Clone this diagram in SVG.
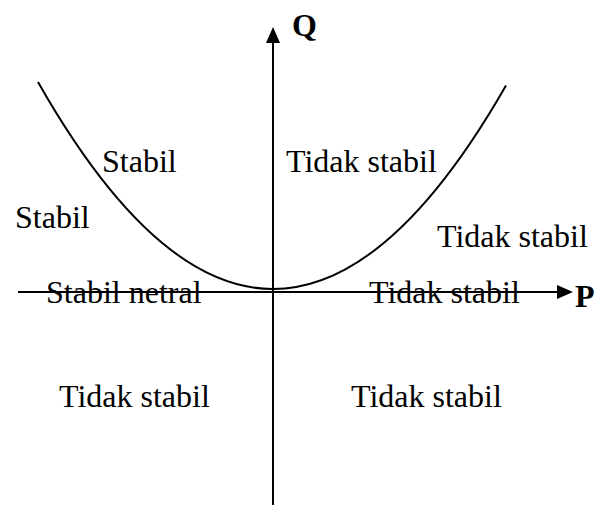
<svg xmlns="http://www.w3.org/2000/svg" width="605" height="507" viewBox="0 0 605 507">
<style>
.lbl{font-family:"Liberation Serif","Times New Roman",serif;font-size:32px;fill:#000}
.ax{font-family:"Liberation Serif","Times New Roman",serif;font-size:32px;font-weight:bold;fill:#000}
.ln{stroke:#000;stroke-width:2;fill:none}
</style>
<rect width="605" height="507" fill="#fff"/>
<g id="connectors">
<line class="ln" x1="273" y1="505" x2="273" y2="40"/>
<polygon points="273,27 266,43 280,43" fill="#000"/>
<line class="ln" x1="18" y1="292" x2="560" y2="292"/>
<polygon points="573,292 557,285 557,299" fill="#000"/>
<path id="curve" class="ln" d="M38,82 Q272,494.2 506,85.5"/>
</g>
<g id="axisQ"><text class="ax" x="292" y="36">Q</text></g>
<g id="axisP"><text class="ax" x="575" y="307">P</text></g>
<g id="stabil1"><text class="lbl" x="102" y="172">Stabil</text></g>
<g id="tidak1"><text class="lbl" x="286" y="172">Tidak stabil</text></g>
<g id="stabil2"><text class="lbl" x="15" y="228">Stabil</text></g>
<g id="tidak2"><text class="lbl" x="437" y="247">Tidak stabil</text></g>
<g id="netral"><text class="lbl" x="46" y="303">Stabil netral</text></g>
<g id="tidak3"><text class="lbl" x="369" y="303">Tidak stabil</text></g>
<g id="tidak4"><text class="lbl" x="59" y="407">Tidak stabil</text></g>
<g id="tidak5"><text class="lbl" x="351" y="407">Tidak stabil</text></g>
</svg>
